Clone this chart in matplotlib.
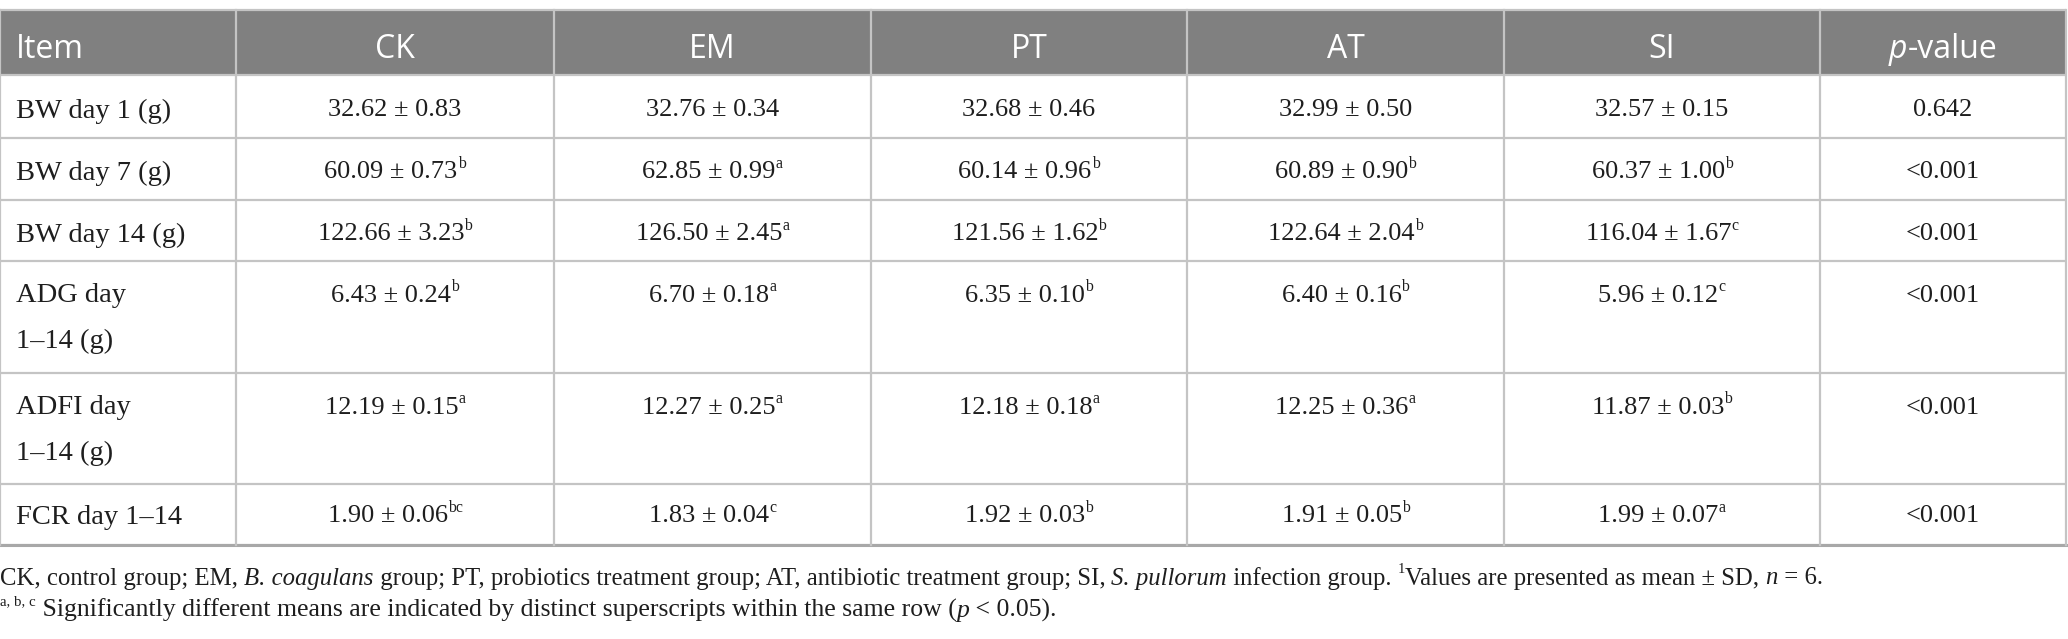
import matplotlib
matplotlib.use("Agg")
import matplotlib.pyplot as plt

# ---- table data ----
items = ["BW day 1 (g)", "BW day 7 (g)", "BW day 14 (g)",
         "ADG day\n1\u201314 (g)", "ADFI day\n1\u201314 (g)", "FCR day 1\u201314"]
groups = ["CK", "EM", "PT", "AT", "SI"]

ck_mean = [32.62, 60.09, 122.66, 6.43, 12.19, 1.90]
ck_sd = [0.83, 0.73, 3.23, 0.24, 0.15, 0.06]
ck_sup = ["", "b", "b", "b", "a", "bc"]

em_mean = [32.76, 62.85, 126.50, 6.70, 12.27, 1.83]
em_sd = [0.34, 0.99, 2.45, 0.18, 0.25, 0.04]
em_sup = ["", "a", "a", "a", "a", "c"]

pt_mean = [32.68, 60.14, 121.56, 6.35, 12.18, 1.92]
pt_sd = [0.46, 0.96, 1.62, 0.10, 0.18, 0.03]
pt_sup = ["", "b", "b", "b", "a", "b"]

at_mean = [32.99, 60.89, 122.64, 6.40, 12.25, 1.91]
at_sd = [0.50, 0.90, 2.04, 0.16, 0.36, 0.05]
at_sup = ["", "b", "b", "b", "a", "b"]

si_mean = [32.57, 60.37, 116.04, 5.96, 11.87, 1.99]
si_sd = [0.15, 1.00, 1.67, 0.12, 0.03, 0.07]
si_sup = ["", "b", "c", "c", "b", "a"]

p_values = ["0.642", "<0.001", "<0.001", "<0.001", "<0.001", "<0.001"]

cols = [(ck_mean, ck_sd, ck_sup), (em_mean, em_sd, em_sup), (pt_mean, pt_sd, pt_sup),
        (at_mean, at_sd, at_sup), (si_mean, si_sd, si_sup)]

# ---- layout (pixels) ----
W, H = 2068, 639
col_x = [0, 236, 554, 871, 1187, 1504, 1820, 2066]
row_y = [10, 75, 138, 200, 261, 373, 484, 545]
HEAD_BG = "#808080"
LINE = "#c4c4c4"
INK = "#1e1e1e"
SERIF = "Liberation Serif"
SANS = "Open Sans"
ITEM_FS = 20.5
VAL_FS = 19
HEAD_FS = 23
NOTE_FS = 17.8

fig = plt.figure(figsize=(W / 100, H / 100), dpi=100)
ax = fig.add_axes([0, 0, 1, 1])
ax.set_xlim(0, W)
ax.set_ylim(H, 0)
ax.axis("off")
fig.canvas.draw()
renderer = fig.canvas.get_renderer()


def width_of(s, **kw):
    # measure with guard chars so leading/trailing spaces count
    t1 = ax.text(0, 0, "|" + s + "|", **kw)
    t2 = ax.text(0, 0, "||", **kw)
    w = t1.get_window_extent(renderer).width - t2.get_window_extent(renderer).width
    t1.remove()
    t2.remove()
    return w


def runs(x, y, parts, ha="left", color=INK):
    """parts: list of (text, family, size, style, rise)."""
    ws = [width_of(s, family=f, fontsize=fs, style=st) for s, f, fs, st, r in parts]
    total = sum(ws)
    if ha == "center":
        x = x - total / 2
    for (s, f, fs, st, r), w in zip(parts, ws):
        ax.text(x, y - r, s, family=f, fontsize=fs, style=st, color=color,
                ha="left", va="center_baseline")
        x += w


# header background
ax.add_patch(plt.Rectangle((col_x[0], row_y[0]), col_x[-1] - col_x[0],
                           row_y[1] - row_y[0], facecolor=HEAD_BG, edgecolor="none"))

# grid lines
for y in row_y:
    ax.plot([col_x[0], col_x[-1]], [y, y], color=LINE, lw=1.6, solid_capstyle="butt")
ax.plot([col_x[0], col_x[-1]], [row_y[-1], row_y[-1]], color="#a8a8a8", lw=2.2)
for x in col_x:
    ax.plot([x, x], [row_y[0], row_y[-1]], color=LINE, lw=1.6)

# header text
hy = 46
ax.text(16, hy, "Item", family=SANS, fontsize=HEAD_FS, color="white",
        ha="left", va="center_baseline")
for j, g in enumerate(groups):
    cx = (col_x[j + 1] + col_x[j + 2]) / 2
    ax.text(cx, hy, g, family=SANS, fontsize=HEAD_FS, color="white",
            ha="center", va="center_baseline")
cx = (col_x[6] + col_x[7]) / 2
runs(cx, hy, [("p", SANS, HEAD_FS, "italic", 0), ("-value", SANS, HEAD_FS, "normal", 0)],
     ha="center", color="white")

# body
line_y = [108, 170, 232, 293, 405, 514]
for i, item in enumerate(items):
    y = line_y[i]
    for k, part in enumerate(item.split("\n")):
        ax.text(16, y + k * 45, part, family=SERIF, fontsize=ITEM_FS, color=INK,
                ha="left", va="center_baseline")
    for j, (m, sd, sup) in enumerate(cols):
        cx = (col_x[j + 1] + col_x[j + 2]) / 2
        parts = [(f"{m[i]:.2f} \u00b1 {sd[i]:.2f}", SERIF, VAL_FS, "normal", 0)]
        if sup[i]:
            parts.append((sup[i], SERIF, VAL_FS * 0.6, "normal", 8))
        runs(cx, y, parts, ha="center")
    cx = (col_x[6] + col_x[7]) / 2
    ax.text(cx, y, p_values[i], family=SERIF, fontsize=VAL_FS, color=INK,
            ha="center", va="center_baseline")

# footnotes
n1 = [("CK, control group; EM, ", SERIF, NOTE_FS, "normal", 0),
      ("B. coagulans", SERIF, NOTE_FS, "italic", 0),
      (" group; PT, probiotics treatment group; AT, antibiotic treatment group; SI, ",
       SERIF, NOTE_FS, "normal", 0),
      ("S. pullorum", SERIF, NOTE_FS, "italic", 0),
      (" infection group. ", SERIF, NOTE_FS, "normal", 0),
      ("1", SERIF, NOTE_FS * 0.58, "normal", 8),
      ("Values are presented as mean \u00b1 SD, ", SERIF, NOTE_FS, "normal", 0),
      ("n", SERIF, NOTE_FS, "italic", 0),
      (" = 6.", SERIF, NOTE_FS, "normal", 0)]
runs(0, 576, n1)
NOTE2_FS = 18.5
n2 = [("a, b, c", SERIF, NOTE2_FS * 0.58, "normal", 8),
      (" Significantly different means are indicated by distinct superscripts within the same row (",
       SERIF, NOTE2_FS, "normal", 0),
      ("p", SERIF, NOTE2_FS, "italic", 0),
      (" < 0.05).", SERIF, NOTE2_FS, "normal", 0)]
runs(0, 608, n2)

fig.savefig("out.png", dpi=100)
